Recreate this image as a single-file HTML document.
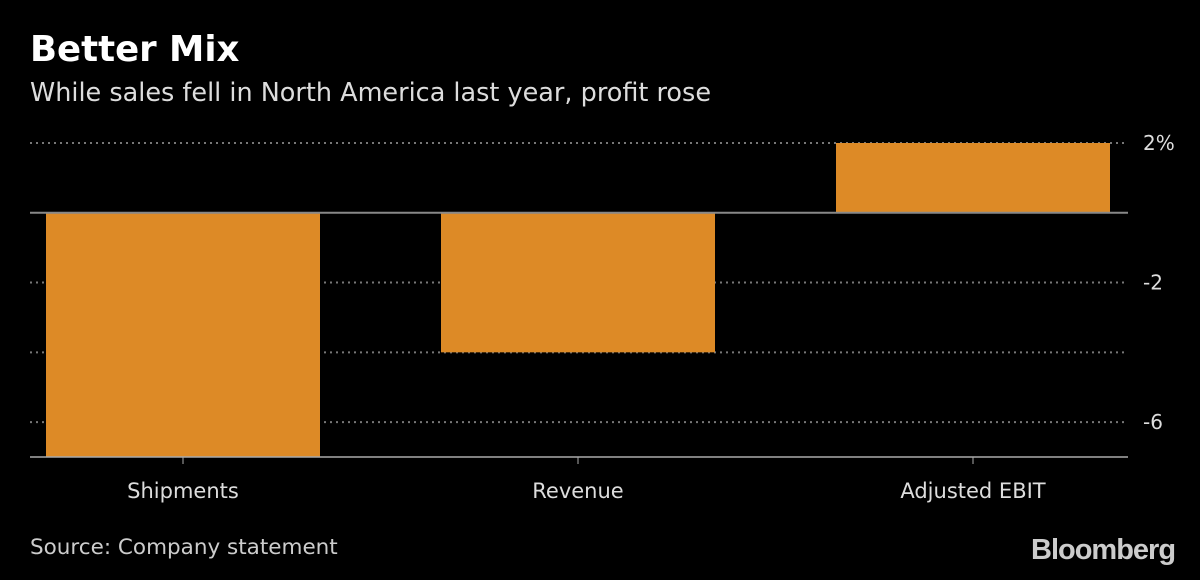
<!DOCTYPE html>
<html><head><meta charset="utf-8"><style>
body{margin:0;width:1200px;height:580px;background:#000;overflow:hidden;font-family:"DejaVu Sans","Liberation Sans",sans-serif;color:#fff}
.t{position:absolute;left:30px;top:29px;font-size:35.5px;font-weight:bold;font-family:"DejaVu Sans",sans-serif}
.s{position:absolute;left:30px;top:78px;font-size:25.5px;color:#ddd}
.src{position:absolute;left:30px;top:535px;font-size:21.5px;color:#ccc}
.logo{position:absolute;left:1031px;top:534px;font-size:29px;font-weight:bold;color:#ccc;letter-spacing:-1px;font-family:"Liberation Sans",sans-serif}
svg{position:absolute;left:0;top:0}
</style></head><body>
<div class="t">Better Mix</div>
<div class="s">While sales fell in North America last year, profit rose</div>
<div class="src">Source: Company statement</div>
<div class="logo">Bloomberg</div>
<svg id="c" width="1200" height="580"></svg>
<script>
const categories=["Shipments","Revenue","Adjusted EBIT"];
const values=[-7,-4,2];
const yTicks=[2,0,-2,-4,-6];
const yTickLabels=["2%","","-2","","-6"];
const yMin=-7,yMax=2;
const svg=document.getElementById('c');
const NS='http://www.w3.org/2000/svg';
const plotTop=143,plotBottom=457,plotLeft=30,plotRight=1128;
function y(v){return plotBottom-(v-yMin)/(yMax-yMin)*(plotBottom-plotTop);}
function xc(i){return 183+395*i;}
function mk(tag,a){const e=document.createElementNS(NS,tag);for(const k in a)e.setAttribute(k,a[k]);svg.appendChild(e);return e;}
yTicks.forEach((t,i)=>{
  if(t===0)return;
  const l=mk('line',{x1:plotLeft,x2:plotRight,y1:y(t),y2:y(t),stroke:'#777','stroke-width':2,'stroke-dasharray':'2,4'});
  
  
  if(yTickLabels[i]){
    const tx=mk('text',{x:1143,y:y(t)+7,fill:'#ddd','font-size':20,'font-family':'DejaVu Sans, sans-serif'});
    tx.textContent=yTickLabels[i];
    
    
  }
});
const bw=274;
categories.forEach((c,i)=>{
  const cx=xc(i);
  const v=values[i];
  const y0=y(0),y1=y(v);
  const r=mk('rect',{x:cx-bw/2,y:Math.min(y0,y1),width:bw,height:Math.abs(y1-y0),fill:'#dd8a26'});
  
  
  const tk=mk('line',{x1:cx,x2:cx,y1:plotBottom,y2:plotBottom+7,stroke:'#aaa','stroke-width':1});
  
  
  const tx=mk('text',{x:cx,y:498,fill:'#ddd','font-size':21,'text-anchor':'middle','font-family':'DejaVu Sans, sans-serif'});
  tx.textContent=c;
  
  
});
const z=mk('line',{x1:plotLeft,x2:plotRight,y1:y(0),y2:y(0),stroke:'#888','stroke-width':2});


const ax=mk('line',{x1:plotLeft,x2:plotRight,y1:plotBottom,y2:plotBottom,stroke:'#aaa','stroke-width':1.5});


</script>
</body></html>
